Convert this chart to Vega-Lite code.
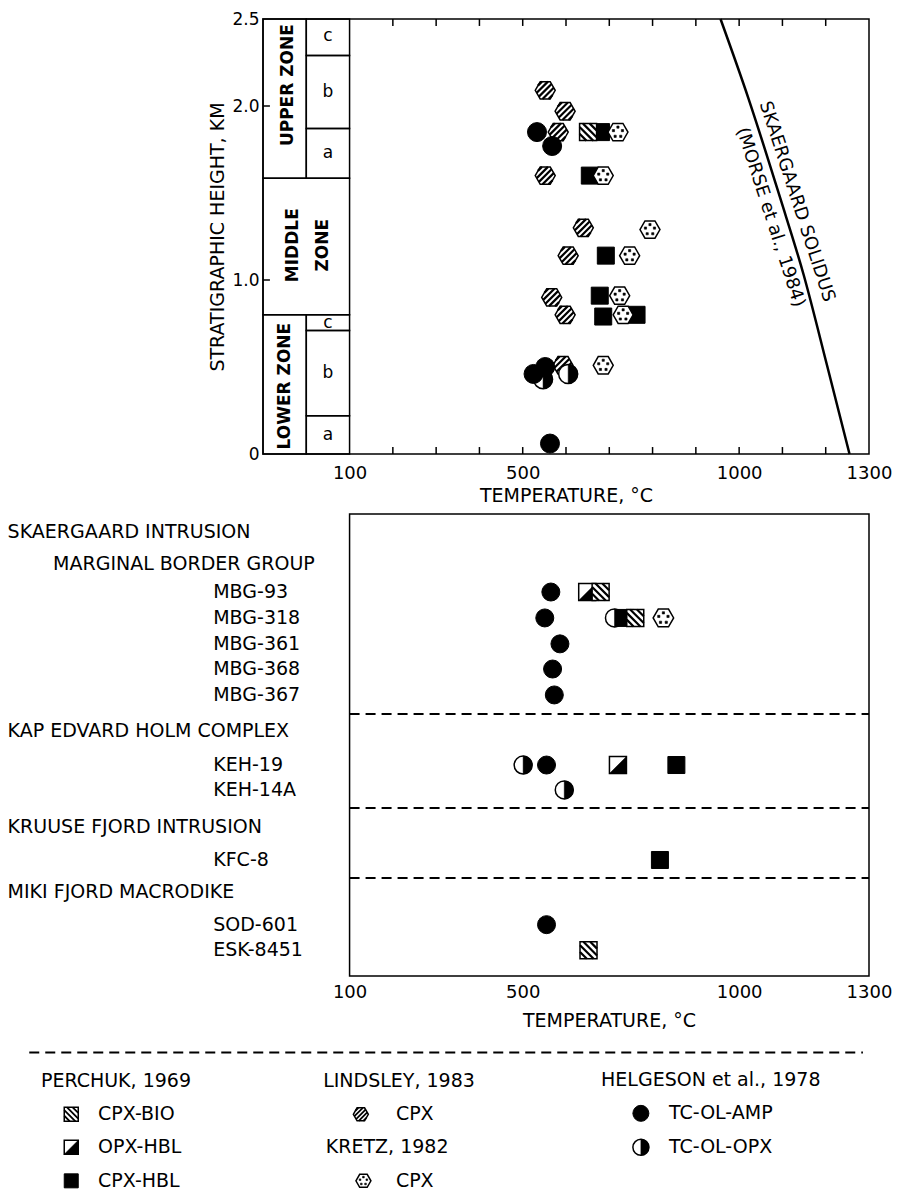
{
"$schema": "https://vega.github.io/schema/vega-lite/v6.json",
"background": "white",
"padding": {"left": 7, "top": 9, "right": 5, "bottom": 5},
"config": {"font": "DejaVu Sans", "view": {"stroke": null}, "mark": {"color": "black"}},
"datasets": {
 "topPts": [
  {"t":552,"h":2.09,"s":"LCPX"},{"t":598,"h":1.97,"s":"LCPX"},{"t":582,"h":1.85,"s":"LCPX"},{"t":552,"h":1.60,"s":"LCPX"},{"t":640,"h":1.30,"s":"LCPX"},{"t":605,"h":1.14,"s":"LCPX"},{"t":567,"h":0.90,"s":"LCPX"},{"t":598,"h":0.80,"s":"LCPX"},{"t":593,"h":0.51,"s":"LCPX"},
  {"t":651,"h":1.85,"s":"BIO"},
  {"t":681,"h":1.85,"s":"HBL"},{"t":655,"h":1.60,"s":"HBL"},{"t":692,"h":1.14,"s":"HBL"},{"t":678,"h":0.91,"s":"HBL"},{"t":686,"h":0.79,"s":"HBL"},{"t":763,"h":0.80,"s":"HBL"},
  {"t":720,"h":1.85,"s":"KCPX"},{"t":686,"h":1.60,"s":"KCPX"},{"t":794,"h":1.29,"s":"KCPX"},{"t":747,"h":1.14,"s":"KCPX"},{"t":724,"h":0.91,"s":"KCPX"},{"t":732,"h":0.80,"s":"KCPX"},{"t":686,"h":0.51,"s":"KCPX"},
  {"t":547,"h":0.43,"s":"OLOPX"},{"t":605,"h":0.46,"s":"OLOPX"},
  {"t":533,"h":1.85,"s":"AMP"},{"t":568,"h":1.77,"s":"AMP"},{"t":552,"h":0.50,"s":"AMP"},{"t":525,"h":0.46,"s":"AMP"},{"t":563,"h":0.06,"s":"AMP"}
 ],
 "botPts": [
  {"t":565,"r":3.04,"s":"AMP"},{"t":649,"r":3.04,"s":"OPX"},{"t":680,"r":3.04,"s":"BIO"},
  {"t":551,"r":4.05,"s":"AMP"},{"t":712,"r":4.05,"s":"OLOPX"},{"t":738,"r":4.05,"s":"HBL"},{"t":760,"r":4.05,"s":"BIO"},{"t":825,"r":4.05,"s":"KCPX"},
  {"t":586,"r":5.06,"s":"AMP"},{"t":569,"r":6.04,"s":"AMP"},{"t":573,"r":7.05,"s":"AMP"},
  {"t":501,"r":9.78,"s":"OLOPX"},{"t":555,"r":9.78,"s":"AMP"},{"t":720,"r":9.78,"s":"OPX"},{"t":855,"r":9.78,"s":"HBL"},
  {"t":596,"r":10.75,"s":"OLOPX"},
  {"t":817,"r":13.48,"s":"HBL"},
  {"t":555,"r":16.0,"s":"AMP"},
  {"t":652,"r":17.0,"s":"BIO"}
 ],
 "legPts": [
  {"t":-543,"r":2.38,"s":"BIO"},{"t":-543,"r":3.38,"s":"OPX"},{"t":-543,"r":4.4,"s":"HBL"},
  {"t":126,"r":2.38,"s":"LCPX"},{"t":132,"r":4.4,"s":"KCPX"},
  {"t":773,"r":2.35,"s":"AMP"},{"t":773,"r":3.38,"s":"OLOPX"}
 ]
},
"vconcat": [
 {
  "width": 606, "height": 435,
  "view": {"stroke": "black", "strokeWidth": 1.5},
  "layer": [
   {
    "data": {"values": [
     {"x1":-100,"x2":0,"y1":1.585,"y2":2.5},
     {"x1":0,"x2":100,"y1":2.29,"y2":2.5},
     {"x1":0,"x2":100,"y1":1.87,"y2":2.29},
     {"x1":0,"x2":100,"y1":1.585,"y2":1.87},
     {"x1":-100,"x2":100,"y1":0.8,"y2":1.585},
     {"x1":-100,"x2":0,"y1":0,"y2":0.8},
     {"x1":0,"x2":100,"y1":0.71,"y2":0.8},
     {"x1":0,"x2":100,"y1":0.22,"y2":0.71},
     {"x1":0,"x2":100,"y1":0,"y2":0.22}]},
    "mark": {"type": "rect", "filled": false, "stroke": "black", "strokeWidth": 1.5},
    "encoding": {
     "x": {"field": "x1", "type": "quantitative", "scale": {"domain": [-100, 1300], "nice": false, "zero": false},
       "axis": {"values": [100, 500, 1000, 1300], "format": "d", "title": "TEMPERATURE, °C", "ticks": false, "domain": false, "grid": false, "labelPadding": 10, "titlePadding": 4, "labelFontSize": 18, "titleFontSize": 19, "titleFontWeight": "normal", "labelColor": "black", "titleColor": "black", "labelFlush": false, "labelOverlap": false}},
     "x2": {"field": "x2"},
     "y": {"field": "y1", "type": "quantitative", "scale": {"domain": [0, 2.5], "nice": false, "zero": false},
       "axis": {"values": [0, 1, 2, 2.5], "labelExpr": "datum.value == 0 ? '0' : format(datum.value, '.1f')", "title": "STRATIGRAPHIC HEIGHT, KM", "ticks": false, "domain": false, "grid": false, "labelPadding": 4, "titlePadding": 4, "labelFontSize": 17, "titleFontSize": 19, "titleFontWeight": "normal", "labelColor": "black", "titleColor": "black", "labelFlush": false, "labelOverlap": false}},
     "y2": {"field": "y2"}
    }
   },
   {
    "data": {"values": [{"t":-42,"h":2.12,"txt":"UPPER ZONE"},{"t":-30,"h":1.2,"txt":"MIDDLE"},{"t":38,"h":1.2,"txt":"ZONE"},{"t":-50,"h":0.39,"txt":"LOWER ZONE"}]},
    "mark": {"type": "text", "angle": 270, "fontSize": 17, "fontWeight": "bold", "align": "center", "baseline": "middle", "color": "black"},
    "encoding": {"x": {"field": "t", "type": "quantitative"}, "y": {"field": "h", "type": "quantitative"}, "text": {"field": "txt"}}
   },
   {
    "data": {"values": [{"t":50,"h":2.4,"txt":"c"},{"t":50,"h":2.08,"txt":"b"},{"t":50,"h":1.73,"txt":"a"},{"t":50,"h":0.755,"txt":"c"},{"t":50,"h":0.465,"txt":"b"},{"t":50,"h":0.11,"txt":"a"}]},
    "mark": {"type": "text", "fontSize": 17, "align": "center", "baseline": "middle", "color": "black"},
    "encoding": {"x": {"field": "t", "type": "quantitative"}, "y": {"field": "h", "type": "quantitative"}, "text": {"field": "txt"}}
   },
   {
    "data": {"values": [{"t":200},{"t":300},{"t":400},{"t":500},{"t":600},{"t":700},{"t":800},{"t":900},{"t":1000},{"t":1100},{"t":1200}]},
    "mark": {"type": "rule", "strokeWidth": 1.5, "color": "black"},
    "encoding": {"x": {"field": "t", "type": "quantitative"}, "y": {"datum": 0}, "y2": {"datum": 0.04}}
   },
   {
    "data": {"values": [{"t":200},{"t":300},{"t":400},{"t":500},{"t":600},{"t":700},{"t":800},{"t":900},{"t":1000},{"t":1100},{"t":1200}]},
    "mark": {"type": "rule", "strokeWidth": 1.5, "color": "black"},
    "encoding": {"x": {"field": "t", "type": "quantitative"}, "y": {"datum": 2.5}, "y2": {"datum": 2.46}}
   },
   {
    "data": {"values": [{"h":1},{"h":2}]},
    "mark": {"type": "rule", "strokeWidth": 1.5, "color": "black"},
    "encoding": {"y": {"field": "h", "type": "quantitative"}, "x": {"datum": -100}, "x2": {"datum": -84}}
   },
   {
    "data": {"values": [{"t":957,"h":2.5},{"t":1022,"h":2.04},{"t":1095,"h":1.47},{"t":1149,"h":1.03},{"t":1203,"h":0.51},{"t":1255,"h":0}]},
    "mark": {"type": "line", "color": "black", "strokeWidth": 2.5, "interpolate": "monotone"},
    "encoding": {"x": {"field": "t", "type": "quantitative"}, "y": {"field": "h", "type": "quantitative"}}
   },
   {
    "data": {"values": [{"t":1133,"h":1.45,"txt":"SKAERGAARD  SOLIDUS"},{"t":1072,"h":1.36,"txt":"(MORSE et al., 1984)"}]},
    "mark": {"type": "text", "angle": 72, "fontSize": 18, "align": "center", "baseline": "middle", "color": "black"},
    "encoding": {"x": {"field": "t", "type": "quantitative"}, "y": {"field": "h", "type": "quantitative"}, "text": {"field": "txt"}}
   },
   {"data": {"name": "topPts"}, "transform": [{"filter": "datum.s === 'LCPX'"}], "mark": {"type": "point", "shape": "M-1,0L-0.5,-0.866L0.5,-0.866L1,0L0.5,0.866L-0.5,0.866Z", "filled": true, "fill": "white", "stroke": "black", "strokeWidth": 1.5, "size": 400, "opacity": 1}, "encoding": {"x": {"field": "t", "type": "quantitative"}, "y": {"field": "h", "type": "quantitative"}}},
   {"data": {"name": "topPts"}, "transform": [{"filter": "datum.s === 'LCPX'"}], "mark": {"type": "point", "shape": "M-0.73,-0.47L-0.33,-0.87M-0.85,0.25L0.27,-0.87M-0.63,0.63L0.63,-0.63M-0.27,0.87L0.85,-0.25M0.33,0.87L0.73,0.47", "filled": false, "stroke": "black", "strokeWidth": 2.2, "size": 400, "opacity": 1}, "encoding": {"x": {"field": "t", "type": "quantitative"}, "y": {"field": "h", "type": "quantitative"}}},
   {"data": {"name": "topPts"}, "transform": [{"filter": "datum.s === 'OLOPX'"}], "mark": {"type": "point", "shape": "circle", "filled": true, "fill": "white", "stroke": "black", "strokeWidth": 1.5, "size": 361, "opacity": 1}, "encoding": {"x": {"field": "t", "type": "quantitative"}, "y": {"field": "h", "type": "quantitative"}}},
   {"data": {"name": "topPts"}, "transform": [{"filter": "datum.s === 'OLOPX'"}], "mark": {"type": "point", "shape": "M0,-1A1,1,0,0,1,0,1Z", "filled": true, "fill": "black", "stroke": "black", "strokeWidth": 0.5, "size": 361, "opacity": 1}, "encoding": {"x": {"field": "t", "type": "quantitative"}, "y": {"field": "h", "type": "quantitative"}}},
   {"data": {"name": "topPts"}, "transform": [{"filter": "datum.s === 'HBL'"}], "mark": {"type": "point", "shape": "square", "filled": true, "fill": "black", "stroke": "black", "strokeWidth": 1, "size": 289, "opacity": 1}, "encoding": {"x": {"field": "t", "type": "quantitative"}, "y": {"field": "h", "type": "quantitative"}}},
   {"data": {"name": "topPts"}, "transform": [{"filter": "datum.s === 'BIO'"}], "mark": {"type": "point", "shape": "square", "filled": true, "fill": "white", "stroke": "black", "strokeWidth": 1.5, "size": 289, "opacity": 1}, "encoding": {"x": {"field": "t", "type": "quantitative"}, "y": {"field": "h", "type": "quantitative"}}},
   {"data": {"name": "topPts"}, "transform": [{"filter": "datum.s === 'BIO'"}], "mark": {"type": "point", "shape": "M-1,0.2L-0.2,1M-1,-0.6L0.6,1M-0.6,-1L1,0.6M0.2,-1L1,-0.2", "filled": false, "stroke": "black", "strokeWidth": 2.2, "size": 289, "opacity": 1}, "encoding": {"x": {"field": "t", "type": "quantitative"}, "y": {"field": "h", "type": "quantitative"}}},
   {"data": {"name": "topPts"}, "transform": [{"filter": "datum.s === 'KCPX'"}], "mark": {"type": "point", "shape": "M-1,0L-0.5,-0.866L0.5,-0.866L1,0L0.5,0.866L-0.5,0.866Z", "filled": true, "fill": "white", "stroke": "black", "strokeWidth": 1.5, "size": 400, "opacity": 1}, "encoding": {"x": {"field": "t", "type": "quantitative"}, "y": {"field": "h", "type": "quantitative"}}},
   {"data": {"name": "topPts"}, "transform": [{"filter": "datum.s === 'KCPX'"}], "mark": {"type": "point", "shape": "M-0.11,-0.61h0.22v0.22h-0.22ZM0.34,-0.26h0.22v0.22h-0.22ZM0.17,0.31h0.22v0.22h-0.22ZM-0.39,0.31h0.22v0.22h-0.22ZM-0.56,-0.26h0.22v0.22h-0.22Z", "filled": true, "fill": "black", "stroke": "black", "strokeWidth": 0.6, "size": 400, "opacity": 1}, "encoding": {"x": {"field": "t", "type": "quantitative"}, "y": {"field": "h", "type": "quantitative"}}},
   {"data": {"name": "topPts"}, "transform": [{"filter": "datum.s === 'AMP'"}], "mark": {"type": "point", "shape": "circle", "filled": true, "fill": "black", "stroke": "black", "strokeWidth": 1, "size": 361, "opacity": 1}, "encoding": {"x": {"field": "t", "type": "quantitative"}, "y": {"field": "h", "type": "quantitative"}}}
  ]
 },
 {
  "width": 606, "height": 462,
  "layer": [
   {
    "data": {"values": [{"x1":100,"x2":1300,"y1":0,"y2":18}]},
    "mark": {"type": "rect", "filled": false, "stroke": "black", "strokeWidth": 1.5},
    "encoding": {
     "x": {"field": "x1", "type": "quantitative", "scale": {"domain": [-100, 1300], "nice": false, "zero": false},
       "axis": {"values": [100, 500, 1000, 1300], "format": "d", "title": "TEMPERATURE, °C", "titleX": 346, "ticks": false, "domain": false, "grid": false, "labelPadding": 7, "titlePadding": 10, "labelFontSize": 18, "titleFontSize": 19, "titleFontWeight": "normal", "labelColor": "black", "titleColor": "black", "labelFlush": false, "labelOverlap": false}},
     "x2": {"field": "x2"},
     "y": {"field": "y1", "type": "quantitative", "scale": {"domain": [0, 18], "nice": false, "zero": false, "reverse": true}, "axis": null},
     "y2": {"field": "y2"}
    }
   },
   {
    "data": {"values": [{"r":7.79},{"r":11.45},{"r":14.18}]},
    "mark": {"type": "rule", "strokeWidth": 2, "strokeDash": [10, 6], "color": "black"},
    "encoding": {"y": {"field": "r", "type": "quantitative"}, "x": {"datum": 100}, "x2": {"datum": 1300}}
   },
   {
    "data": {"values": [
     {"t":-690,"r":0.70,"txt":"SKAERGAARD INTRUSION"},
     {"t":-585,"r":1.95,"txt":"MARGINAL BORDER GROUP"},
     {"t":-215,"r":3.04,"txt":"MBG-93"},
     {"t":-215,"r":4.05,"txt":"MBG-318"},
     {"t":-215,"r":5.06,"txt":"MBG-361"},
     {"t":-215,"r":6.04,"txt":"MBG-368"},
     {"t":-215,"r":7.05,"txt":"MBG-367"},
     {"t":-690,"r":8.45,"txt":"KAP EDVARD HOLM COMPLEX"},
     {"t":-215,"r":9.78,"txt":"KEH-19"},
     {"t":-215,"r":10.75,"txt":"KEH-14A"},
     {"t":-690,"r":12.19,"txt":"KRUUSE FJORD INTRUSION"},
     {"t":-215,"r":13.48,"txt":"KFC-8"},
     {"t":-690,"r":14.73,"txt":"MIKI FJORD MACRODIKE"},
     {"t":-215,"r":16.0,"txt":"SOD-601"},
     {"t":-215,"r":17.0,"txt":"ESK-8451"}]},
    "mark": {"type": "text", "fontSize": 19, "align": "left", "baseline": "middle", "color": "black"},
    "encoding": {"x": {"field": "t", "type": "quantitative"}, "y": {"field": "r", "type": "quantitative"}, "text": {"field": "txt"}}
   },
   {"data": {"name": "botPts"}, "transform": [{"filter": "datum.s === 'LCPX'"}], "mark": {"type": "point", "shape": "M-1,0L-0.5,-0.866L0.5,-0.866L1,0L0.5,0.866L-0.5,0.866Z", "filled": true, "fill": "white", "stroke": "black", "strokeWidth": 1.5, "size": 420, "opacity": 1}, "encoding": {"x": {"field": "t", "type": "quantitative"}, "y": {"field": "r", "type": "quantitative"}}},
   {"data": {"name": "botPts"}, "transform": [{"filter": "datum.s === 'OLOPX'"}], "mark": {"type": "point", "shape": "circle", "filled": true, "fill": "white", "stroke": "black", "strokeWidth": 1.5, "size": 324, "opacity": 1}, "encoding": {"x": {"field": "t", "type": "quantitative"}, "y": {"field": "r", "type": "quantitative"}}},
   {"data": {"name": "botPts"}, "transform": [{"filter": "datum.s === 'OLOPX'"}], "mark": {"type": "point", "shape": "M0,-1A1,1,0,0,1,0,1Z", "filled": true, "fill": "black", "stroke": "black", "strokeWidth": 0.5, "size": 324, "opacity": 1}, "encoding": {"x": {"field": "t", "type": "quantitative"}, "y": {"field": "r", "type": "quantitative"}}},
   {"data": {"name": "botPts"}, "transform": [{"filter": "datum.s === 'OPX'"}], "mark": {"type": "point", "shape": "square", "filled": true, "fill": "white", "stroke": "black", "strokeWidth": 1.5, "size": 289, "opacity": 1}, "encoding": {"x": {"field": "t", "type": "quantitative"}, "y": {"field": "r", "type": "quantitative"}}},
   {"data": {"name": "botPts"}, "transform": [{"filter": "datum.s === 'OPX'"}], "mark": {"type": "point", "shape": "M1,-1L1,1L-1,1Z", "filled": true, "fill": "black", "stroke": "black", "strokeWidth": 0.5, "size": 289, "opacity": 1}, "encoding": {"x": {"field": "t", "type": "quantitative"}, "y": {"field": "r", "type": "quantitative"}}},
   {"data": {"name": "botPts"}, "transform": [{"filter": "datum.s === 'HBL'"}], "mark": {"type": "point", "shape": "square", "filled": true, "fill": "black", "stroke": "black", "strokeWidth": 1, "size": 289, "opacity": 1}, "encoding": {"x": {"field": "t", "type": "quantitative"}, "y": {"field": "r", "type": "quantitative"}}},
   {"data": {"name": "botPts"}, "transform": [{"filter": "datum.s === 'BIO'"}], "mark": {"type": "point", "shape": "square", "filled": true, "fill": "white", "stroke": "black", "strokeWidth": 1.5, "size": 289, "opacity": 1}, "encoding": {"x": {"field": "t", "type": "quantitative"}, "y": {"field": "r", "type": "quantitative"}}},
   {"data": {"name": "botPts"}, "transform": [{"filter": "datum.s === 'BIO'"}], "mark": {"type": "point", "shape": "M-1,0.2L-0.2,1M-1,-0.6L0.6,1M-0.6,-1L1,0.6M0.2,-1L1,-0.2", "filled": false, "stroke": "black", "strokeWidth": 2.2, "size": 289, "opacity": 1}, "encoding": {"x": {"field": "t", "type": "quantitative"}, "y": {"field": "r", "type": "quantitative"}}},
   {"data": {"name": "botPts"}, "transform": [{"filter": "datum.s === 'KCPX'"}], "mark": {"type": "point", "shape": "M-1,0L-0.5,-0.866L0.5,-0.866L1,0L0.5,0.866L-0.5,0.866Z", "filled": true, "fill": "white", "stroke": "black", "strokeWidth": 1.5, "size": 420, "opacity": 1}, "encoding": {"x": {"field": "t", "type": "quantitative"}, "y": {"field": "r", "type": "quantitative"}}},
   {"data": {"name": "botPts"}, "transform": [{"filter": "datum.s === 'KCPX'"}], "mark": {"type": "point", "shape": "M-0.11,-0.61h0.22v0.22h-0.22ZM0.34,-0.26h0.22v0.22h-0.22ZM0.17,0.31h0.22v0.22h-0.22ZM-0.39,0.31h0.22v0.22h-0.22ZM-0.56,-0.26h0.22v0.22h-0.22Z", "filled": true, "fill": "black", "stroke": "black", "strokeWidth": 0.6, "size": 420, "opacity": 1}, "encoding": {"x": {"field": "t", "type": "quantitative"}, "y": {"field": "r", "type": "quantitative"}}},
   {"data": {"name": "botPts"}, "transform": [{"filter": "datum.s === 'AMP'"}], "mark": {"type": "point", "shape": "circle", "filled": true, "fill": "black", "stroke": "black", "strokeWidth": 1, "size": 324, "opacity": 1}, "encoding": {"x": {"field": "t", "type": "quantitative"}, "y": {"field": "r", "type": "quantitative"}}}
  ]
 },
 {
  "width": 606, "height": 158,
  "layer": [
   {
    "data": {"values": [{"r":0.5}]},
    "mark": {"type": "rule", "strokeWidth": 2, "strokeDash": [10, 6], "color": "black"},
    "encoding": {
     "y": {"field": "r", "type": "quantitative", "scale": {"domain": [0, 4.8], "nice": false, "zero": false, "reverse": true}, "axis": null},
     "x": {"datum": -640, "type": "quantitative", "scale": {"domain": [-100, 1300], "nice": false, "zero": false}, "axis": null},
     "x2": {"datum": 1286}}
   },
   {
    "data": {"values": [
     {"t":-613,"r":1.38,"txt":"PERCHUK, 1969"},
     {"t":-481,"r":2.38,"txt":"CPX-BIO"},
     {"t":-481,"r":3.38,"txt":"OPX-HBL"},
     {"t":-481,"r":4.4,"txt":"CPX-HBL"},
     {"t":39,"r":1.38,"txt":"LINDSLEY, 1983"},
     {"t":207,"r":2.38,"txt":"CPX"},
     {"t":45,"r":3.38,"txt":"KRETZ, 1982"},
     {"t":207,"r":4.4,"txt":"CPX"},
     {"t":681,"r":1.33,"txt":"HELGESON et al., 1978"},
     {"t":838,"r":2.35,"txt":"TC-OL-AMP"},
     {"t":838,"r":3.38,"txt":"TC-OL-OPX"}]},
    "mark": {"type": "text", "fontSize": 19, "align": "left", "baseline": "middle", "color": "black"},
    "encoding": {"x": {"field": "t", "type": "quantitative"}, "y": {"field": "r", "type": "quantitative"}, "text": {"field": "txt"}}
   },
   {"data": {"name": "legPts"}, "transform": [{"filter": "datum.s === 'LCPX'"}], "mark": {"type": "point", "shape": "M-1,0L-0.5,-0.866L0.5,-0.866L1,0L0.5,0.866L-0.5,0.866Z", "filled": true, "fill": "white", "stroke": "black", "strokeWidth": 1.5, "size": 225, "opacity": 1}, "encoding": {"x": {"field": "t", "type": "quantitative"}, "y": {"field": "r", "type": "quantitative"}}},
   {"data": {"name": "legPts"}, "transform": [{"filter": "datum.s === 'LCPX'"}], "mark": {"type": "point", "shape": "M-0.73,-0.47L-0.33,-0.87M-0.85,0.25L0.27,-0.87M-0.63,0.63L0.63,-0.63M-0.27,0.87L0.85,-0.25M0.33,0.87L0.73,0.47", "filled": false, "stroke": "black", "strokeWidth": 1.7, "size": 225, "opacity": 1}, "encoding": {"x": {"field": "t", "type": "quantitative"}, "y": {"field": "r", "type": "quantitative"}}},
   {"data": {"name": "legPts"}, "transform": [{"filter": "datum.s === 'OLOPX'"}], "mark": {"type": "point", "shape": "circle", "filled": true, "fill": "white", "stroke": "black", "strokeWidth": 1.5, "size": 256, "opacity": 1}, "encoding": {"x": {"field": "t", "type": "quantitative"}, "y": {"field": "r", "type": "quantitative"}}},
   {"data": {"name": "legPts"}, "transform": [{"filter": "datum.s === 'OLOPX'"}], "mark": {"type": "point", "shape": "M0,-1A1,1,0,0,1,0,1Z", "filled": true, "fill": "black", "stroke": "black", "strokeWidth": 0.5, "size": 256, "opacity": 1}, "encoding": {"x": {"field": "t", "type": "quantitative"}, "y": {"field": "r", "type": "quantitative"}}},
   {"data": {"name": "legPts"}, "transform": [{"filter": "datum.s === 'OPX'"}], "mark": {"type": "point", "shape": "square", "filled": true, "fill": "white", "stroke": "black", "strokeWidth": 1.5, "size": 196, "opacity": 1}, "encoding": {"x": {"field": "t", "type": "quantitative"}, "y": {"field": "r", "type": "quantitative"}}},
   {"data": {"name": "legPts"}, "transform": [{"filter": "datum.s === 'OPX'"}], "mark": {"type": "point", "shape": "M1,-1L1,1L-1,1Z", "filled": true, "fill": "black", "stroke": "black", "strokeWidth": 0.5, "size": 196, "opacity": 1}, "encoding": {"x": {"field": "t", "type": "quantitative"}, "y": {"field": "r", "type": "quantitative"}}},
   {"data": {"name": "legPts"}, "transform": [{"filter": "datum.s === 'HBL'"}], "mark": {"type": "point", "shape": "square", "filled": true, "fill": "black", "stroke": "black", "strokeWidth": 1, "size": 196, "opacity": 1}, "encoding": {"x": {"field": "t", "type": "quantitative"}, "y": {"field": "r", "type": "quantitative"}}},
   {"data": {"name": "legPts"}, "transform": [{"filter": "datum.s === 'BIO'"}], "mark": {"type": "point", "shape": "square", "filled": true, "fill": "white", "stroke": "black", "strokeWidth": 1.5, "size": 196, "opacity": 1}, "encoding": {"x": {"field": "t", "type": "quantitative"}, "y": {"field": "r", "type": "quantitative"}}},
   {"data": {"name": "legPts"}, "transform": [{"filter": "datum.s === 'BIO'"}], "mark": {"type": "point", "shape": "M-1,0.2L-0.2,1M-1,-0.6L0.6,1M-0.6,-1L1,0.6M0.2,-1L1,-0.2", "filled": false, "stroke": "black", "strokeWidth": 1.8, "size": 196, "opacity": 1}, "encoding": {"x": {"field": "t", "type": "quantitative"}, "y": {"field": "r", "type": "quantitative"}}},
   {"data": {"name": "legPts"}, "transform": [{"filter": "datum.s === 'KCPX'"}], "mark": {"type": "point", "shape": "M-1,0L-0.5,-0.866L0.5,-0.866L1,0L0.5,0.866L-0.5,0.866Z", "filled": true, "fill": "white", "stroke": "black", "strokeWidth": 1.5, "size": 225, "opacity": 1}, "encoding": {"x": {"field": "t", "type": "quantitative"}, "y": {"field": "r", "type": "quantitative"}}},
   {"data": {"name": "legPts"}, "transform": [{"filter": "datum.s === 'KCPX'"}], "mark": {"type": "point", "shape": "M-0.11,-0.61h0.22v0.22h-0.22ZM0.34,-0.26h0.22v0.22h-0.22ZM0.17,0.31h0.22v0.22h-0.22ZM-0.39,0.31h0.22v0.22h-0.22ZM-0.56,-0.26h0.22v0.22h-0.22Z", "filled": true, "fill": "black", "stroke": "black", "strokeWidth": 0.6, "size": 225, "opacity": 1}, "encoding": {"x": {"field": "t", "type": "quantitative"}, "y": {"field": "r", "type": "quantitative"}}},
   {"data": {"name": "legPts"}, "transform": [{"filter": "datum.s === 'AMP'"}], "mark": {"type": "point", "shape": "circle", "filled": true, "fill": "black", "stroke": "black", "strokeWidth": 1, "size": 256, "opacity": 1}, "encoding": {"x": {"field": "t", "type": "quantitative"}, "y": {"field": "r", "type": "quantitative"}}}
  ]
 }
],
"spacing": 60,
"bounds": "flush"
}
